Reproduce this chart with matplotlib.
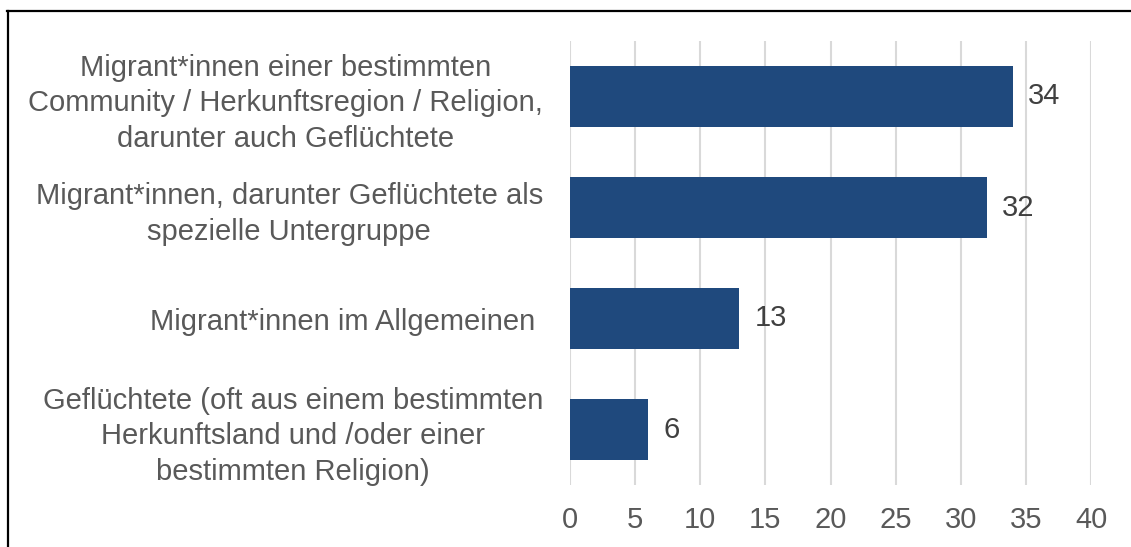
import matplotlib.pyplot as plt
from matplotlib.lines import Line2D

plt.rcParams['font.family'] = ['Liberation Sans', 'DejaVu Sans']

categories = [
    "Migrant*innen einer bestimmten\nCommunity / Herkunftsregion / Religion,\ndarunter auch Geflüchtete",
    "Migrant*innen, darunter Geflüchtete als\nspezielle Untergruppe",
    "Migrant*innen im Allgemeinen ",
    "Geflüchtete (oft aus einem bestimmten\nHerkunftsland und /oder einer\nbestimmten Religion)",
]
values = [34, 32, 13, 6]
xticks = [0, 5, 10, 15, 20, 25, 30, 35, 40]

fig = plt.figure(figsize=(11.31, 5.47), dpi=100)
ax = fig.add_axes([570 / 1131, 1 - 485 / 547, 521 / 1131, 444 / 547])

ypos = list(range(len(categories)))
bars = ax.barh(ypos, values, height=0.55, color='#1F497D', zorder=3)
for y, v in zip(ypos, values):
    ax.text(v + 1.15, y, str(v), va='center', ha='left', fontsize=21, color='#404040')

ax.set_xlim(0, 40)
ax.set_ylim(3.5, -0.5)
ax.set_xticks(xticks)
ax.set_xticklabels([str(t) for t in xticks])
ax.set_yticks(ypos)
ax.set_yticklabels(categories, multialignment='center', linespacing=1.36)

ax.tick_params(axis='x', length=0, pad=15, labelsize=21, labelcolor='#595959')
ax.tick_params(axis='y', length=0, pad=19.5, labelsize=21, labelcolor='#595959')
ax.grid(axis='x', color='#D9D9D9', linewidth=1.5, zorder=0)
for s in ax.spines.values():
    s.set_visible(False)

# outer frame (only top and left visible in the crop)
fig.add_artist(Line2D([7 / 1131, 1], [1 - 11 / 547, 1 - 11 / 547], color='black', lw=1.6, transform=fig.transFigure))
fig.add_artist(Line2D([8 / 1131, 8 / 1131], [0, 1 - 11 / 547], color='black', lw=1.6, transform=fig.transFigure))

fig.savefig('out.png', dpi=100)
